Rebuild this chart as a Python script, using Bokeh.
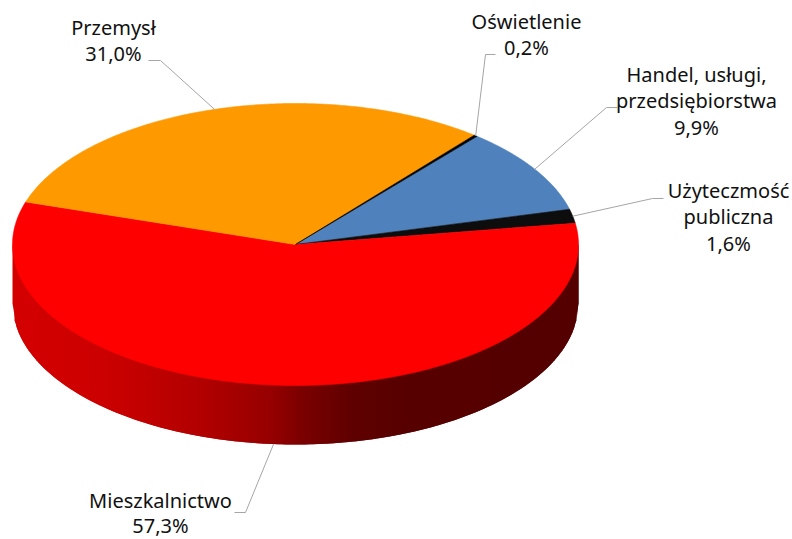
import numpy as np
from bokeh.plotting import figure
from bokeh.models import Range1d
from bokeh.core.properties import value
from bokeh.embed import file_html
from bokeh.resources import INLINE

# Data, in drawing order (clockwise from the upper right)
names = [["Handel, usługi,", "przedsiębiorstwa"], ["Użyteczmość", "publiczna"], ["Mieszkalnictwo"], ["Przemysł"], ["Oświetlenie"]]
shares = [9.9, 1.6, 57.3, 31.0, 0.2]
colors = ["#4F81BD", "#0D0D0D", "#FF0000", "#FF9900", "#000000"]

# Layout (picture pixels)
CX, CY, RX, RY, DEPTH = 295, 244, 283, 141, 59
START = 39.9
label_x = [696, 728, 160, 113, 526]
label_y = [74, 190, 500, 27, 21]
line_pitch = [26.3, 26.3, 24.5, 26.3, 26.3]
elbow_x = [606, 652, 245, 160, 485]
elbow_y = [107, 198, 512, 60, 54]
stub_x = [617, 663, 234, 148, 495]

W, H = 792, 539
p = figure(width=W, height=H, x_range=Range1d(0, W), y_range=Range1d(H, 0),
           output_backend="svg", toolbar_location=None, min_border=0,
           background_fill_color="white", border_fill_color="white")
p.axis.visible = False
p.grid.visible = False
p.outline_line_color = None


def ell(t):
    t = np.radians(t)
    return CX + RX * np.sin(t), CY - RY * np.cos(t)


# Side wall: shaded from left to right, drawn in thin vertical strips
shade_x = [12, 100, 200, 270, 300, 350, 400, 578]
shade_r = [212, 205, 178, 150, 124, 96, 88, 84]
wall_xs, wall_ys, wall_cs = [], [], []
edge = np.arange(CX - RX, CX + RX + 1, 2.0)
low = CY + RY * np.sqrt(np.clip(1 - ((edge - CX) / RX) ** 2, 0, 1))
for i in range(len(edge) - 1):
    k = min(i + 2, len(edge) - 1)  # overlap the next strip to hide seams
    wall_xs.append([edge[i], edge[k], edge[k], edge[i]])
    wall_ys.append([low[i] - 1, low[k] - 1, low[k] + DEPTH, low[i] + DEPTH])
    r = int(np.interp(edge[i], shade_x, shade_r))
    wall_cs.append(f"#{r:02x}0000")
p.patches(wall_xs, wall_ys, fill_color=wall_cs, line_color=None)

# Top face
angles = START + np.concatenate([[0], np.cumsum(shares)]) * 3.6
mids = []
for i, c in enumerate(colors):
    ts = np.linspace(angles[i], angles[i + 1], max(3, int(shares[i] * 8)))
    x, y = ell(ts)
    p.patch(np.r_[CX, x], np.r_[CY, y], fill_color=c, line_color=c, line_width=0.6)
    mids.append((angles[i] + angles[i + 1]) / 2)

# Leaders and labels
for i, s in enumerate(shares):
    ax, ay = ell(mids[i])
    if np.cos(np.radians(mids[i])) < 0:
        ay = ay + DEPTH
    p.line([ax, elbow_x[i], stub_x[i]], [ay, elbow_y[i], elbow_y[i]], line_color="#a6a6a6", line_width=1)
    lines = names[i] + [f"{s:.1f}%".replace(".", ",")]
    for j, t in enumerate(lines):
        p.text([label_x[i]], [label_y[i] + j * line_pitch[i]], text=[t], text_align="center",
               text_baseline="middle", text_font=value("Noto Sans"), text_font_size="20px",
               text_color="#111111")

open("out.html", "w").write(file_html(p, INLINE))
